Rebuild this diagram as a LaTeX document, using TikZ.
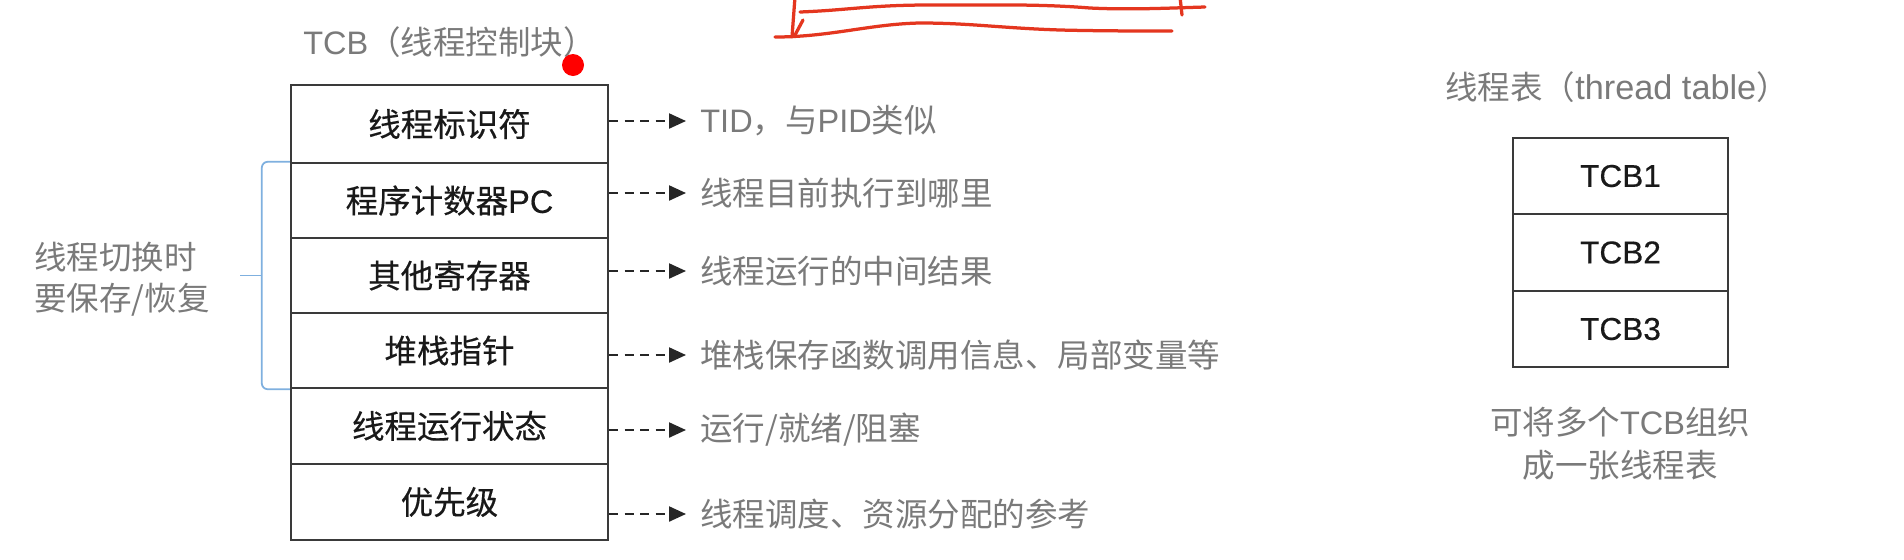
\documentclass[tikz,border=0pt]{standalone}
\usepackage{fontspec}
\setmainfont{Noto Sans CJK SC}
\newfontfamily\cjkb[FakeBold=0.35]{Noto Sans CJK SC}
\newfontfamily\lat{Liberation Sans}
\newfontfamily\latb[FakeBold=0.35]{Liberation Sans}
\usetikzlibrary{arrows.meta,calc}
\definecolor{txtgray}{HTML}{7A7A7A}
\definecolor{boxline}{HTML}{3A3A3A}
\definecolor{brblue}{HTML}{7FB0DF}
\definecolor{redpen}{HTML}{E4361F}
\tikzset{
  rowbox/.style={draw=boxline, line width=0.05cm, minimum width=6.34cm, inner sep=0pt,
     font=\cjkb\fontsize{18.5}{22}\selectfont, text=black!90},
  tcbbox/.style={draw=boxline, line width=0.05cm, minimum width=4.3cm, inner sep=0pt,
     font=\latb\fontsize{18}{22}\selectfont, text=black!90},
  desc/.style={anchor=west, inner xsep=0.28cm, inner ysep=0pt, text=txtgray,
     font=\fontsize{18.5}{22}\selectfont},
  gtext/.style={text=txtgray, inner sep=0pt, font=\fontsize{18.5}{23.5}\selectfont},
  darr/.style={line width=0.045cm, dash pattern=on 0.18cm off 0.13cm, black!85,
     -{Triangle[length=0.34cm,width=0.3cm]}},
  bluebr/.style={draw=brblue, line width=0.035cm},
  pen/.style={draw=redpen, line width=0.065cm, line cap=round, line join=round}
}
\begin{document}
\begin{tikzpicture}[x=0.02cm,y=-0.02cm]
\useasboundingbox (0,0) rectangle (1904,559);
\fill[white] (0,0) rectangle (1904,559);

% red pen annotations at top
\draw[pen] (795,-3) -- (792,37);
\draw[pen] (803,20) -- (795,35);
\draw[pen] (800,12) .. controls (850,10) and (870,5) .. (930,5) .. controls (1000,5) and (1040,4) .. (1090,8) .. controls (1130,10) and (1170,8) .. (1205,7);
\draw[pen] (775,37) .. controls (830,37) and (870,24) .. (920,23) .. controls (970,23) and (1000,28) .. (1060,30) .. controls (1100,31) and (1140,31) .. (1172,31);
\draw[pen] (1180,-3) -- (1182,15);

% title
\node[gtext, anchor=west] (title) at (303,42) {{\lat TCB}（线程控制块）};
\fill[red] (573,65) circle[radius=0.22cm];

% main table rows
\node[rowbox, minimum height=1.56cm] (r1) at (449.5,124) {线程标识符};
\node[rowbox, minimum height=1.50cm] (r2) at (449.5,200.5) {程序计数器{\latb PC}};
\node[rowbox, minimum height=1.50cm] (r3) at (449.5,275.5) {其他寄存器};
\node[rowbox, minimum height=1.50cm] (r4) at (449.5,350.5) {堆栈指针};
\node[rowbox, minimum height=1.52cm] (r5) at (449.5,426) {线程运行状态};
\node[rowbox, minimum height=1.52cm] (r6) at (449.5,502) {优先级};

% descriptions
\node[desc] (t1) at (686,121) {{\lat TID}，与{\lat PID}类似};
\node[desc] (t2) at (686,193) {线程目前执行到哪里};
\node[desc] (t3) at (686,271) {线程运行的中间结果};
\node[desc] (t4) at (686,355) {堆栈保存函数调用信息、局部变量等};
\node[desc] (t5) at (686,430) {运行/就绪/阻塞};
\node[desc] (t6) at (686,514) {线程调度、资源分配的参考};

\foreach \i in {1,...,6}{
  \draw[darr] (r\i.east |- t\i.west) -- (t\i.west);
}

% brace
\coordinate (bt) at ([xshift=-0.56cm]r2.north west);
\coordinate (bb) at ([xshift=-0.56cm]r4.south west);
\coordinate (bm) at ($(bt)!0.5!(bb)$);
\draw[bluebr, rounded corners=0.12cm] (r2.north west) -- (bt) -- (bb) -- (r4.south west);
\draw[bluebr] (bm) -- ++(-22,0);

% left label
\node[gtext, anchor=west, align=left] (save) at (34,279) {线程切换时\\要保存/恢复};

% thread table
\node[gtext, anchor=west] (ttitle) at (1445,87) {线程表（{\lat\fontsize{19.5}{23}\selectfont thread table}）};
\node[tcbbox, minimum height=1.52cm] (c1) at (1620.5,176) {TCB1};
\node[tcbbox, minimum height=1.54cm] (c2) at (1620.5,252.5) {TCB2};
\node[tcbbox, minimum height=1.52cm] (c3) at (1620.5,329) {TCB3};
\node[gtext, align=center, font=\fontsize{18.5}{24.5}\selectfont] (cap) at (1620,444) {可将多个{\lat TCB}组织\\成一张线程表};
\end{tikzpicture}
\end{document}
